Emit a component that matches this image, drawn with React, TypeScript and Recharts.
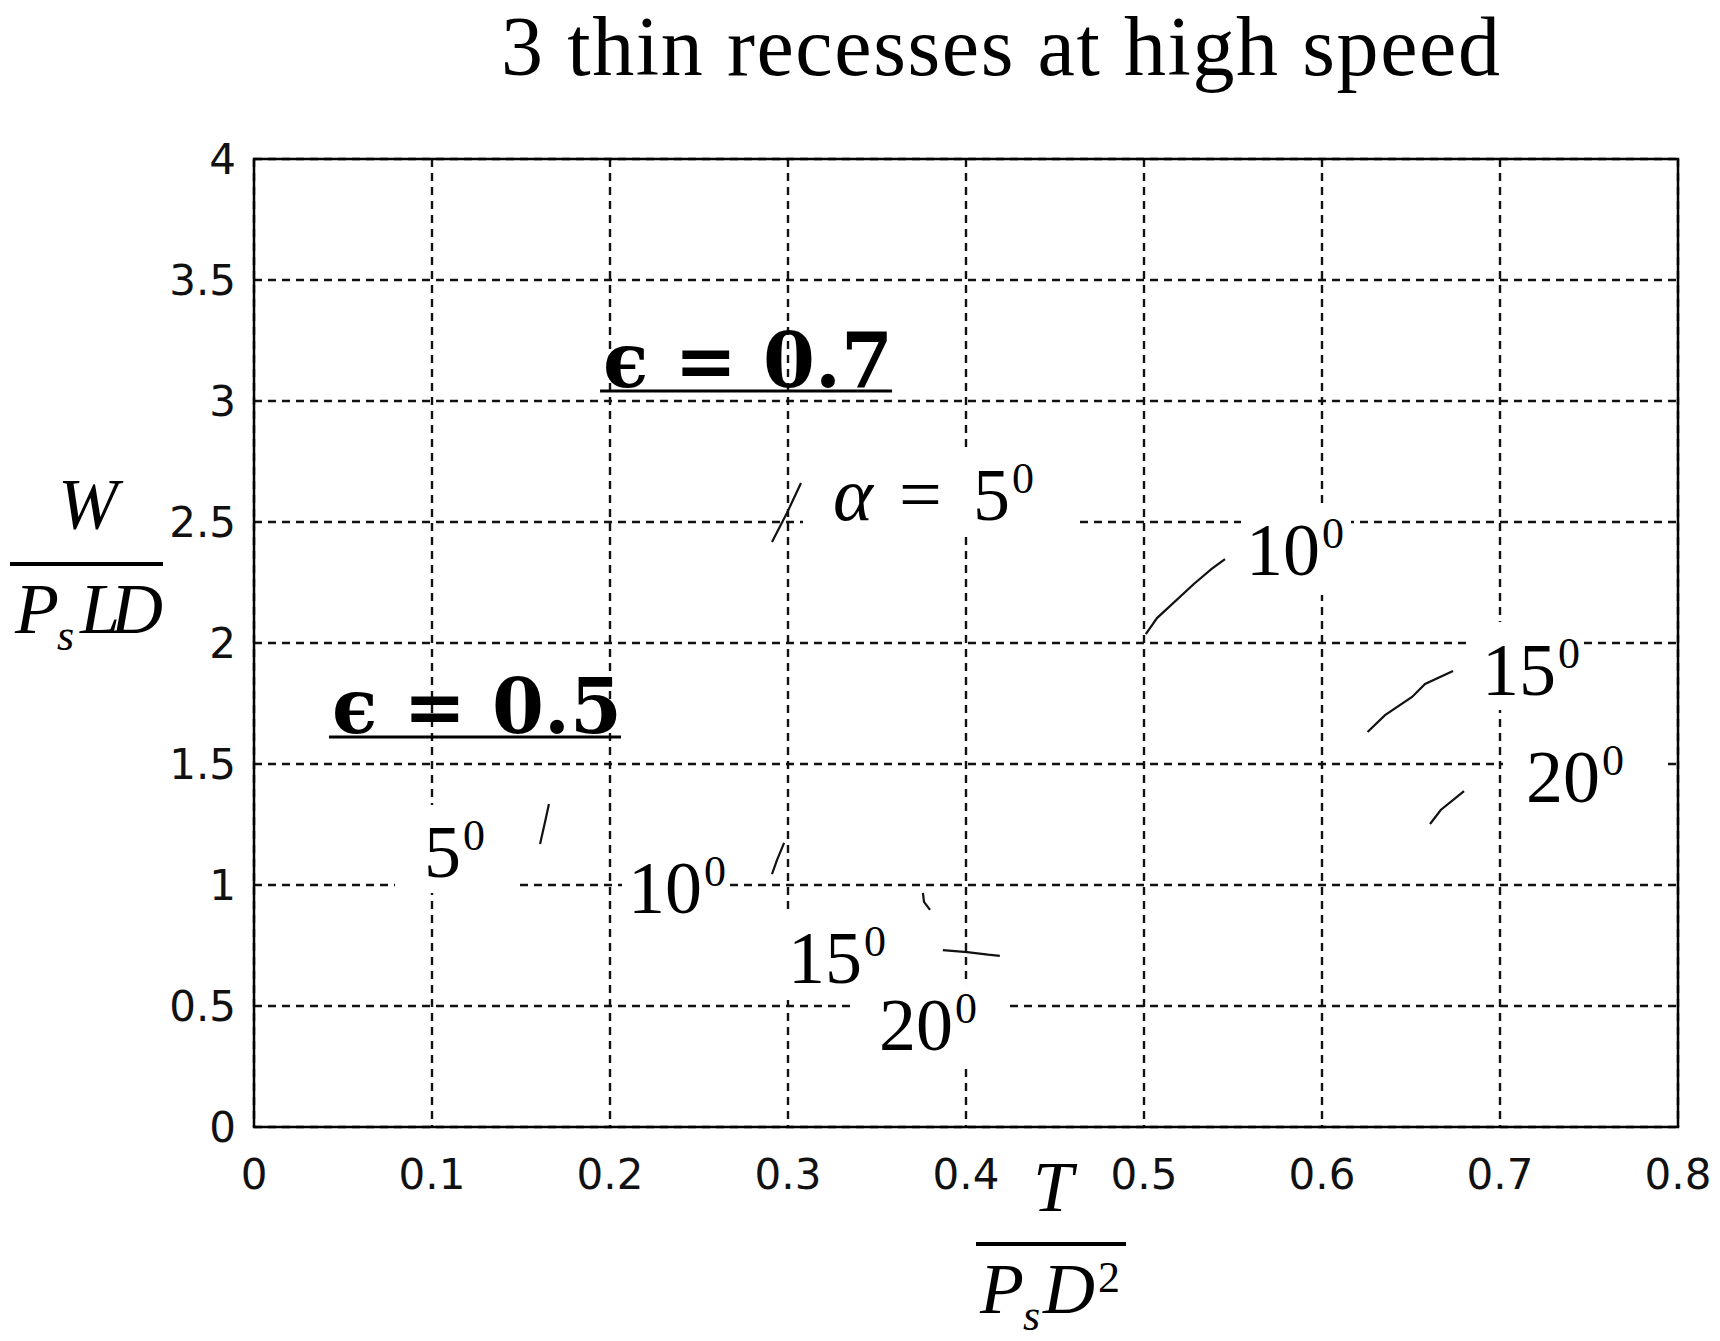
import React from 'react';
import { LineChart, Line, XAxis, YAxis, CartesianGrid, ReferenceDot, ReferenceArea } from 'recharts';

// ---------- data ----------
const xTicks = [0, 0.1, 0.2, 0.3, 0.4, 0.5, 0.6, 0.7, 0.8];
const yTicks = [0, 0.5, 1, 1.5, 2, 2.5, 3, 3.5, 4];

const titleText = '3 thin recesses at high speed';

// epsilon = 0.7 curve fragments (alpha = 5, 10, 15, 20 deg)
const e07a5 = [
  { x: 0.291, y: 2.417 },
  { x: 0.2994, y: 2.537 },
  { x: 0.3073, y: 2.661 },
];
const e07a10 = [
  { x: 0.501, y: 2.037 },
  { x: 0.5073, y: 2.103 },
  { x: 0.528, y: 2.244 },
  { x: 0.538, y: 2.306 },
  { x: 0.5455, y: 2.347 },
];
const e07a15 = [
  { x: 0.6256, y: 1.632 },
  { x: 0.6354, y: 1.702 },
  { x: 0.6506, y: 1.777 },
  { x: 0.6579, y: 1.831 },
  { x: 0.6736, y: 1.884 },
];
const e07a20 = [
  { x: 0.6607, y: 1.252 },
  { x: 0.6667, y: 1.31 },
  { x: 0.6798, y: 1.388 },
];

// epsilon = 0.5 curve fragments
const e05a5 = [
  { x: 0.1607, y: 1.169 },
  { x: 0.1635, y: 1.26 },
  { x: 0.1657, y: 1.335 },
];
const e05a10 = [
  { x: 0.291, y: 1.045 },
  { x: 0.2938, y: 1.103 },
  { x: 0.2978, y: 1.174 },
];
const e05a15 = [
  { x: 0.3758, y: 0.967 },
  { x: 0.3764, y: 0.93 },
  { x: 0.3798, y: 0.897 },
];
const e05a20 = [
  { x: 0.387, y: 0.731 },
  { x: 0.4006, y: 0.723 },
  { x: 0.4124, y: 0.712 },
  { x: 0.419, y: 0.707 },
];

const curves = [e07a5, e07a10, e07a15, e07a20, e05a5, e05a10, e05a15, e05a20];

// angle annotations (anchor = left of text on baseline, data units)
const angleLabels = [
  { prefix: 'α', text: '5', sup: '0', x: 0.3253, y: 2.508 },
  { prefix: '', text: '10', sup: '0', x: 0.5573, y: 2.281 },
  { prefix: '', text: '15', sup: '0', x: 0.6899, y: 1.785 },
  { prefix: '', text: '20', sup: '0', x: 0.7146, y: 1.343 },
  { prefix: '', text: '5', sup: '0', x: 0.0955, y: 1.033 },
  { prefix: '', text: '10', sup: '0', x: 0.2101, y: 0.884 },
  { prefix: '', text: '15', sup: '0', x: 0.3, y: 0.595 },
  { prefix: '', text: '20', sup: '0', x: 0.3511, y: 0.318 },
];

// eccentricity annotations
const epsLabels = [
  { text: 'ϵ = 0.7', x: 0.1961, y: 3.058 },
  { text: 'ϵ = 0.5', x: 0.0438, y: 1.628 },
];

// ---------- styles ----------
// white masking boxes behind the angle labels: [left, right, top, bottom] offsets in px
const labelBoxes = [
  [-30, 245, -68, 15],
  [-5, 105, -72, 20],
  [-11, 100, -73, 15],
  [-23, 142, -67, 13],
  [-29, 93, -72, 16],
  [-6, 100, -63, 12],
  [-4, 104, -70, 17],
  [-29, 129, -65, 15],
];

const NUM_FONT = "'Liberation Serif', 'Times New Roman', serif";
const TICK_FONT = "'DejaVu Sans', sans-serif";

const fmt = (v: number) => (v === 0 ? '0' : String(Math.round(v * 10) / 10));

const XTick = (props: any) => {
  const { x, y, payload } = props;
  return (
    <text x={x} y={y} dy="0.71em" textAnchor="middle" fontFamily={TICK_FONT} fontSize={42} fill="#111">
      {fmt(payload.value)}
    </text>
  );
};

const YTick = (props: any) => {
  const { x, y, payload } = props;
  return (
    <text x={x} y={y} dy="0.355em" textAnchor="end" fontFamily={TICK_FONT} fontSize={42} fill="#111">
      {fmt(payload.value)}
    </text>
  );
};

const AngleLabelShape = ({ cx, cy, item, box }: any) => {
  if (cx == null || cy == null) return null;
  const [l, r, t, b] = box;
  const mainW = item.text.length * 37;
  if (item.prefix) {
    return (
      <g>
        <rect x={cx + l} y={cy + t} width={r - l} height={b - t} fill="#fff" />
        <text x={cx} y={cy} fontFamily={NUM_FONT} fontSize={74} fill="#000">
          <tspan fontStyle="italic" fontSize={76}>{item.prefix}</tspan>
          <tspan x={cx + 66} fontSize={76}>=</tspan>
          <tspan x={cx + 140}>{item.text}</tspan>
          <tspan x={cx + 140 + mainW + 2} dy={-27} fontSize={44}>{item.sup}</tspan>
        </text>
      </g>
    );
  }
  return (
    <g>
      <rect x={cx + l} y={cy + t} width={r - l} height={b - t} fill="#fff" />
      <text x={cx} y={cy} fontFamily={NUM_FONT} fontSize={74} fill="#000">
        <tspan>{item.text}</tspan>
        <tspan x={cx + mainW + 2} dy={-27} fontSize={44}>{item.sup}</tspan>
      </text>
    </g>
  );
};

const EpsLabelShape = ({ cx, cy, item }: any) => {
  if (cx == null || cy == null) return null;
  return (
    <g>
      <text
        x={cx}
        y={cy}
        fontFamily="'DejaVu Serif', serif"
        fontWeight="bold"
        fontSize={76}
        textLength={290}
        lengthAdjust="spacingAndGlyphs"
        fill="#000"
      >
        {item.text}
      </text>
      <line x1={cx - 3} x2={cx + 289} y1={cy + 4} y2={cy + 4} stroke="#000" strokeWidth={3} />
    </g>
  );
};

export default function App() {
  return (
    <div style={{ position: 'absolute', left: 0, top: 0, width: 1720, height: 1341, background: '#fff' }}>
      <LineChart
        width={1720}
        height={1341}
        margin={{ top: 159, right: 42, bottom: 154, left: 154 }}
      >
        <CartesianGrid stroke="#111" strokeWidth={2.4} strokeDasharray="8 6" />
        <XAxis
          type="number"
          dataKey="x"
          domain={[0, 0.8]}
          ticks={xTicks}
          interval={0}
          height={60}
          tickSize={0}
          tickMargin={32}
          tickLine={false}
          axisLine={false}
          tick={<XTick />}
          allowDataOverflow
        />
        <YAxis
          type="number"
          dataKey="y"
          domain={[0, 4]}
          ticks={yTicks}
          interval={0}
          width={100}
          tickSize={0}
          tickMargin={18}
          tickLine={false}
          axisLine={false}
          tick={<YTick />}
          allowDataOverflow
        />
        <ReferenceArea x1={0} x2={0.8} y1={0} y2={4} fill="none" fillOpacity={0} stroke="#000" strokeWidth={2.5} />
        {curves.map((d, i) => (
          <Line
            key={i}
            data={d}
            dataKey="y"
            type="linear"
            stroke="#111"
            strokeWidth={2.2}
            dot={false}
            activeDot={false}
            isAnimationActive={false}
          />
        ))}
        {angleLabels.map((item, i) => (
          <ReferenceDot
            key={'a' + i}
            x={item.x}
            y={item.y}
            r={0}
            shape={(p: any) => <AngleLabelShape cx={p.cx} cy={p.cy} item={item} box={labelBoxes[i]} />}
          />
        ))}
        {epsLabels.map((item, i) => (
          <ReferenceDot
            key={'e' + i}
            x={item.x}
            y={item.y}
            r={0}
            shape={(p: any) => <EpsLabelShape cx={p.cx} cy={p.cy} item={item} />}
          />
        ))}
      </LineChart>
      <svg
        width={1720}
        height={1341}
        style={{ position: 'absolute', left: 0, top: 0, pointerEvents: 'none' }}
      >
        <text x={501} y={75} fontFamily={NUM_FONT} fontSize={84} textLength={999} fill="#000">
          {titleText}
        </text>
        {/* y-axis label: W / (Ps L D) */}
        <text x={88} y={528} textAnchor="middle" fontFamily={NUM_FONT} fontStyle="italic" fontSize={72} fill="#000">
          W
        </text>
        <line x1={10} x2={163} y1={564} y2={564} stroke="#000" strokeWidth={4} />
        <text x={15} y={633} fontFamily={NUM_FONT} fontStyle="italic" fontSize={72} fill="#000">
          <tspan>P</tspan>
          <tspan x={57} dy={17} fontSize={44}>s</tspan>
          <tspan x={80} dy={-17} textLength={83}>LD</tspan>
        </text>
        {/* x-axis label: T / (Ps D^2) */}
        <text x={1053} y={1211} textAnchor="middle" fontFamily={NUM_FONT} fontStyle="italic" fontSize={72} fill="#000">
          T
        </text>
        <line x1={976} x2={1126} y1={1244} y2={1244} stroke="#000" strokeWidth={4} />
        <text x={980} y={1313} fontFamily={NUM_FONT} fontStyle="italic" fontSize={72} fill="#000">
          <tspan>P</tspan>
          <tspan x={1023} dy={17} fontSize={44}>s</tspan>
          <tspan x={1043} dy={-17}>D</tspan>
          <tspan x={1098} dy={-21} fontSize={44} fontStyle="normal">2</tspan>
        </text>
      </svg>
    </div>
  );
}
